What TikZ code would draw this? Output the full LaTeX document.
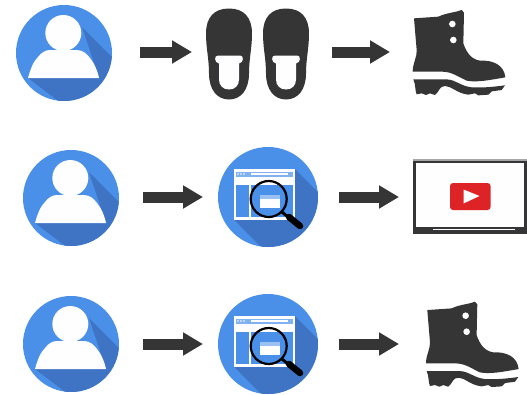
\documentclass[tikz,border=0pt]{standalone}
\usetikzlibrary{arrows.meta}
\definecolor{iconblue}{HTML}{4A90E9}
\definecolor{shadeblue}{HTML}{3F74C4}
\definecolor{ink}{HTML}{353535}
\definecolor{ytred}{HTML}{DD2326}
\definecolor{paper}{HTML}{FEFDFF}
\tikzset{
  flowarrow/.style={draw=ink,line width=11pt,-{Triangle[length=20pt,width=22pt]}},
  zoomed/.style={x=0.33333pt,y=-0.33333pt},
  pics/person/.style={code={
    \begin{scope}
      \clip (0,0) circle[radius=48pt];
      \fill[iconblue] (-50,-50) rectangle (50,50);
      \fill[shadeblue] (18,-26) -- (60,16) -- (60,60) -- (10,60) -- (-36,25) -- (35,25) -- cycle;
    \end{scope}
    \fill[paper] (-0.7,-20) circle[radius=18pt];
    \fill[paper] (-36,25) .. controls (-33,14) and (-30,8) .. (-26,4)
      .. controls (-23,0) and (-19,-3) .. (-14,-3) -- (13,-3)
      .. controls (19,-3) and (23,1) .. (26,5)
      .. controls (30,10) and (33,16) .. (35,25) -- cycle;
  }},
  pics/search/.style={code={
    \begin{scope}
      \clip (0,0) circle[radius=50pt];
      \fill[iconblue] (-52,-52) rectangle (52,52);
      \fill[shadeblue] (27,-28) -- (60,5) -- (60,60) -- (3,60) -- (-34,22.7) -- cycle;
    \end{scope}
    \fill[paper] (-34,-28) rectangle (27,22.7);
    \fill[iconblue!70!paper] (-32,-25.5) rectangle (25,-20.5);
    \foreach \d in {-30,-27,-24} \fill[paper] (\d,-23) circle[radius=0.8pt];
    \fill[paper] (-17,-24) rectangle (20,-22);
    \fill[iconblue] (-32,-12.3) rectangle (-19.3,20);
    \fill[iconblue] (-17,-12.3) rectangle (25,20);
    \fill[paper] (-8,-2) rectangle (12,11);
    \fill[iconblue!55!paper] (-8,-2) rectangle (12,2);
    \draw[black,line width=2.2pt] (0.7,2) circle[radius=18pt];
    \draw[black,line width=3pt] (14,15) -- (20,20);
    \draw[black,line width=6.5pt,line cap=round] (21,20) -- (32,29);
  }},
  pics/shoe/.style={code={
    \fill[ink] (0,-45) .. controls (15,-45) and (23,-36) .. (23,-20)
      .. controls (23,-5) and (20,5) .. (20,20)
      .. controls (20,36) and (12,46) .. (0,46)
      .. controls (-12,46) and (-20,36) .. (-20,20)
      .. controls (-20,5) and (-23,-5) .. (-23,-20)
      .. controls (-23,-36) and (-15,-45) .. (0,-45) -- cycle;
    \fill[paper] (-11,2) .. controls (-15,2) and (-15,9) .. (-10,10)
      -- (-10,26) .. controls (-10,32) and (-6,36) .. (0,36)
      .. controls (6,36) and (10,32) .. (10,26) -- (10,10)
      .. controls (15,9) and (15,2) .. (11,2) -- cycle;
  }},
  pics/boot/.style={code={
    \begin{scope}[zoomed]
      \fill[ink] (282,55) -- (355,50) .. controls (380,38) and (405,38) .. (425,30)
        -- (432,38) -- (430,130) .. controls (440,160) and (455,178) .. (480,182)
        .. controls (520,180) and (552,195) .. (556,232)
        .. controls (510,240) and (470,248) .. (440,242)
        .. controls (410,228) and (395,215) .. (365,215) -- (278,215)
        .. controls (278,190) and (292,170) .. (290,150) -- cycle;
      \fill[ink] (280,238) -- (380,238) .. controls (410,240) and (420,258) .. (455,262)
        .. controls (490,264) and (525,260) .. (555,256) -- (545,270)
        -- (515,274) -- (505,284) -- (475,286) -- (465,280) -- (445,284)
        .. controls (410,280) and (395,258) .. (375,258)
        .. controls (358,258) and (358,275) .. (345,285)
        -- (330,280) -- (318,285) -- (305,280) -- (290,283) .. controls (284,270) and (288,255) .. (280,238) -- cycle;
      \fill[paper] (397,72) circle[radius=3.3pt];
      \fill[paper] (400,120) circle[radius=3.3pt];
    \end{scope}
  }},
  pics/video/.style={code={
    \fill[ink] (413,160) rectangle (526.5,233.5);
    \fill[gray!70] (413,158.5) rectangle (526.5,160.5);
    \fill[paper] (416,163) rectangle (524,226.5);
    \fill[paper] (433,228.6) rectangle (515,230);
    \fill[ytred,rounded corners=3pt] (450,183) rectangle (490.5,210);
    \fill[paper] (463.5,189.5) -- (479.5,196) -- (463.5,203.5) -- cycle;
  }},
}
\begin{document}
\begin{tikzpicture}[x=1pt,y=-1pt]
\useasboundingbox (0,0) rectangle (527,394);
\fill[white] (0,0) rectangle (527,394);
% row 1
\pic at (64,53) {person};
\pic at (229,53.5) {shoe};
\pic at (286,53.5) {shoe};
\pic at (320,0) {boot};
\coordinate (a1) at (140,52); \coordinate (b1) at (192,52);
\coordinate (a2) at (332,52); \coordinate (b2) at (390,52);
\draw[flowarrow] (a1) -- (b1);
\draw[flowarrow] (a2) -- (b2);
% row 2
\pic at (71,198) {person};
\pic at (268,197) {search};
\pic at (0,0) {video};
\coordinate (c1) at (143,197); \coordinate (d1) at (203,197);
\coordinate (c2) at (339,197); \coordinate (d2) at (399,197);
\draw[flowarrow] (c1) -- (d1);
\draw[flowarrow] (c2) -- (d2);
% row 3
\pic at (71,344) {person};
\pic at (268,344) {search};
\pic at (333.3,291.7) {boot};
\coordinate (e1) at (143,344); \coordinate (f1) at (203,344);
\coordinate (e2) at (339,344); \coordinate (f2) at (399,344);
\draw[flowarrow] (e1) -- (f1);
\draw[flowarrow] (e2) -- (f2);
\end{tikzpicture}
\end{document}
